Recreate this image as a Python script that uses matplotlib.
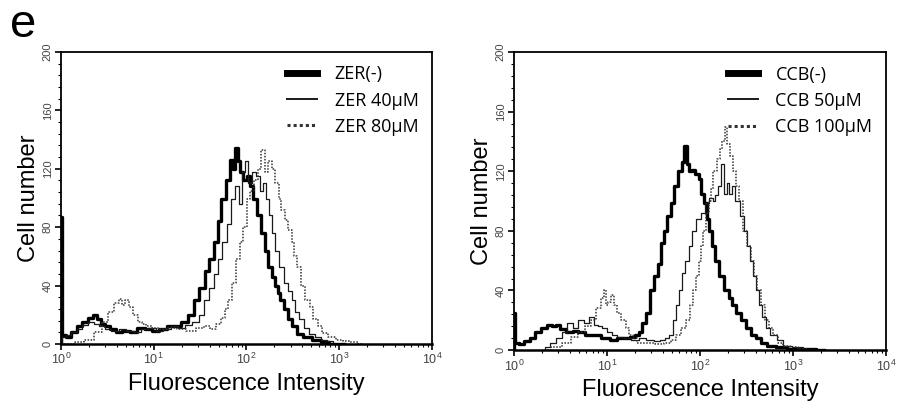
import numpy as np
import matplotlib.pyplot as plt
from matplotlib.ticker import FixedLocator, MultipleLocator, LogLocator, NullFormatter

# log10(fluorescence intensity) / cell number
zer0_logx = [0.0, 0.0, 0.02, 0.08, 0.14, 0.2, 0.26, 0.32, 0.37, 0.41, 0.45, 0.5, 0.56, 0.62, 0.7, 0.78,
             0.86, 0.94, 1.02, 1.1, 1.18, 1.26, 1.33, 1.4, 1.46, 1.52, 1.58, 1.62, 1.67, 1.71, 1.75,
             1.8, 1.84, 1.87, 1.89, 1.92, 1.95, 1.98, 2.02, 2.06, 2.09, 2.14, 2.18, 2.22, 2.25,
             2.29, 2.32, 2.35, 2.38, 2.42, 2.47, 2.52, 2.57, 2.65, 2.75, 2.85, 2.93, 3.05]
zer0_y = [0, 87, 6, 5, 8, 12, 15, 18, 20, 17, 14, 12, 10, 8, 9, 8, 11, 10, 9, 10, 12, 12, 15, 20, 30,
          38, 50, 58, 70, 84, 99, 112, 126, 120, 134, 125, 118, 112, 115, 108, 99, 88, 76, 64, 53,
          46, 40, 35, 30, 24, 17, 12, 7, 5, 3, 1, 0, 0]

zer40_logx = [0.0, 0.02, 0.08, 0.14, 0.2, 0.26, 0.32, 0.38, 0.44, 0.5, 0.58, 0.66, 0.74, 0.82, 0.9,
              0.98, 1.06, 1.14, 1.22, 1.3, 1.38, 1.45, 1.52, 1.57, 1.62, 1.67, 1.71, 1.76, 1.81,
              1.86, 1.9, 1.94, 1.97, 2.0, 2.04, 2.08, 2.12, 2.16, 2.19, 2.22, 2.26, 2.29, 2.33,
              2.38, 2.43, 2.47, 2.5, 2.55, 2.59, 2.65, 2.7, 2.77, 2.83, 2.9, 2.97, 3.1]
zer40_y = [0, 5, 6, 8, 10, 13, 15, 14, 12, 10, 9, 10, 9, 8, 10, 11, 9, 10, 12, 11, 13, 15, 20, 30,
           38, 48, 58, 70, 82, 99, 108, 96, 118, 125, 110, 118, 115, 105, 110, 99, 88, 76, 64,
           53, 42, 36, 30, 22, 17, 11, 7, 5, 3, 2, 0, 0]

zer80_logx = [0.0, 0.1, 0.2, 0.3, 0.4, 0.48, 0.54, 0.6, 0.64, 0.68, 0.71, 0.75, 0.8, 0.85, 0.89,
              0.95, 1.02, 1.1, 1.2, 1.3, 1.4, 1.5, 1.58, 1.64, 1.7, 1.75, 1.79, 1.82, 1.86, 1.91,
              1.95, 1.98, 2.02, 2.06, 2.1, 2.14, 2.18, 2.21, 2.25, 2.29, 2.33, 2.36, 2.39, 2.43,
              2.47, 2.5, 2.53, 2.56, 2.61, 2.66, 2.7, 2.74, 2.79, 2.84, 2.92, 3.0, 3.08, 3.15, 3.25]
zer80_y = [0, 0, 1, 3, 8, 15, 22, 28, 31, 27, 30, 25, 20, 15, 14, 12, 11, 10, 11, 10, 9, 11, 12, 10,
           14, 18, 24, 30, 42, 58, 70, 80, 99, 105, 112, 120, 133, 118, 125, 120, 110, 99, 92,
           85, 78, 70, 60, 53, 40, 30, 25, 17, 12, 7.5, 5, 3, 2, 1, 0]

ccb0_logx = [0.0, 0.0, 0.02, 0.08, 0.14, 0.2, 0.26, 0.32, 0.38, 0.43, 0.47, 0.52, 0.6, 0.66, 0.72,
             0.8, 0.89, 0.98, 1.07, 1.14, 1.22, 1.28, 1.32, 1.36, 1.4, 1.44, 1.48, 1.52, 1.57,
             1.6, 1.63, 1.67, 1.7, 1.74, 1.79, 1.82, 1.84, 1.87, 1.9, 1.93, 1.97, 2.0, 2.03, 2.06,
             2.09, 2.11, 2.15, 2.18, 2.23, 2.29, 2.33, 2.36, 2.41, 2.47, 2.52, 2.58, 2.63, 2.68,
             2.76, 2.86, 3.0, 3.15, 3.33]
ccb0_y = [0, 25, 5, 4, 6, 8, 12, 15, 17, 16, 17, 14, 12, 13, 12, 10, 10, 8, 7, 8, 8, 9, 10, 12, 18,
          25, 40, 50, 58, 72, 80, 90, 99, 110, 120, 126, 137, 125, 120, 121, 118, 115, 105, 99,
          88, 80, 70, 60, 50, 40, 35, 30, 25, 20, 15, 10, 8, 5, 3, 2, 1, 1, 0]

ccb50_logx = [0.3, 0.36, 0.42, 0.48, 0.54, 0.6, 0.66, 0.72, 0.78, 0.83, 0.88, 0.93, 0.97, 1.02,
              1.08, 1.14, 1.22, 1.3, 1.38, 1.46, 1.54, 1.6, 1.65, 1.69, 1.72, 1.76, 1.79, 1.82,
              1.86, 1.9, 1.93, 1.98, 2.03, 2.08, 2.12, 2.15, 2.18, 2.21, 2.24, 2.27, 2.3, 2.33,
              2.36, 2.4, 2.45, 2.49, 2.52, 2.55, 2.58, 2.62, 2.65, 2.69, 2.72, 2.79, 2.86, 2.93,
              3.05, 3.15, 3.3]
ccb50_y = [0, 2, 5, 8, 12, 18, 15, 20, 18, 22, 17, 16, 15, 12, 10, 9, 8, 7, 8, 7, 6, 7, 8, 10, 20,
           30, 40, 52, 60, 70, 80, 88, 92, 99, 102, 100, 104, 110, 125, 105, 112, 105, 110, 100,
           90, 80, 70, 60, 50, 40, 30, 22, 15, 10, 7, 3, 2, 1, 0]

ccb100_logx = [0.35, 0.45, 0.57, 0.66, 0.72, 0.8, 0.86, 0.91, 0.95, 0.98, 1.0, 1.03, 1.06, 1.09,
               1.13, 1.18, 1.22, 1.26, 1.29, 1.36, 1.46, 1.57, 1.66, 1.72, 1.77, 1.82, 1.87,
               1.91, 1.94, 1.97, 2.0, 2.02, 2.05, 2.08, 2.11, 2.13, 2.16, 2.2, 2.23, 2.25, 2.28,
               2.31, 2.33, 2.37, 2.4, 2.44, 2.49, 2.53, 2.56, 2.6, 2.63, 2.68, 2.72, 2.77, 2.81,
               2.86, 2.93, 3.0, 3.1, 3.2]
ccb100_y = [0, 2, 5, 9, 12, 16, 20, 28, 35, 40, 30, 32, 37, 30, 25, 20, 15, 10, 8, 5, 5, 4, 5, 7,
            10, 15, 20, 30, 40, 50, 60, 70, 80, 92, 100, 108, 120, 128, 135, 140, 150, 138, 130,
            120, 110, 100, 80, 70, 60, 50, 40, 30, 20, 15, 10, 5, 3, 2, 1, 0]

panels = [
    {"curves": [(zer0_logx, zer0_y), (zer40_logx, zer40_y), (zer80_logx, zer80_y)],
     "labels": ["ZER(-)", "ZER 40\u03bcM", "ZER 80\u03bcM"],
     "rect": [0.068, 0.157, 0.4136, 0.7157]},
    {"curves": [(ccb0_logx, ccb0_y), (ccb50_logx, ccb50_y), (ccb100_logx, ccb100_y)],
     "labels": ["CCB(-)", "CCB 50\u03bcM", "CCB 100\u03bcM"],
     "rect": [0.573, 0.142, 0.4147, 0.7304]},
]

styles = [dict(color="black", lw=2.4, ls="-"),
          dict(color="#1a1a1a", lw=0.9, ls="-"),
          dict(color="#333333", lw=1.1, ls=(0, (1, 1)))]

plt.rcParams["font.family"] = ["Liberation Sans", "DejaVu Sans"]

fig = plt.figure(figsize=(8.97, 4.08), dpi=100)

for p in panels:
    ax = fig.add_axes(p["rect"])
    handles = []
    for (lx, y), st, lab in zip(p["curves"], styles, p["labels"]):
        h, = ax.plot(10 ** np.array(lx), y, drawstyle="steps-mid", label=lab, **st)
        handles.append(h)
    ax.set_xscale("log")
    ax.set_xlim(1, 1e4)
    ax.set_ylim(0, 200)
    ax.yaxis.set_major_locator(FixedLocator([0, 40, 80, 120, 160, 200]))
    ax.yaxis.set_minor_locator(MultipleLocator(8))
    ax.xaxis.set_major_locator(LogLocator(base=10, numticks=10))
    ax.xaxis.set_minor_locator(LogLocator(base=10, subs=np.arange(2, 10), numticks=10))
    ax.xaxis.set_minor_formatter(NullFormatter())
    ax.tick_params(axis="y", which="major", labelsize=8, labelrotation=90, length=4,
                   width=1.2, labelcolor="#444444", pad=2)
    ax.tick_params(axis="y", which="minor", length=2.5, width=0.8)
    ax.tick_params(axis="x", which="major", labelsize=9, length=4, width=1.2,
                   labelcolor="#444444", pad=2)
    ax.tick_params(axis="x", which="minor", length=2.5, width=0.8)
    for lbl in ax.get_yticklabels():
        lbl.set_va("center")
    for s in ax.spines.values():
        s.set_linewidth(1.3)
    ax.spines["bottom"].set_linewidth(1.8)
    ax.set_xlabel("Fluorescence Intensity", fontsize=17, labelpad=4)
    ax.set_ylabel("Cell number", fontsize=17, labelpad=2)
    leg = ax.legend(handles=handles, loc="upper right", frameon=False,
                    prop={"family": "Open Sans", "size": 13}, handlelength=1.7,
                    handletextpad=0.95, labelspacing=0.45, borderaxespad=0.35)
    leg.legend_handles[0].set_linewidth(5)
    leg.legend_handles[1].set_linewidth(1.4)
    leg.legend_handles[2].set_linewidth(2.2)

fig.text(0.011, 0.993, "e", fontsize=34, va="top", ha="left")

fig.savefig("out.png", dpi=100)
